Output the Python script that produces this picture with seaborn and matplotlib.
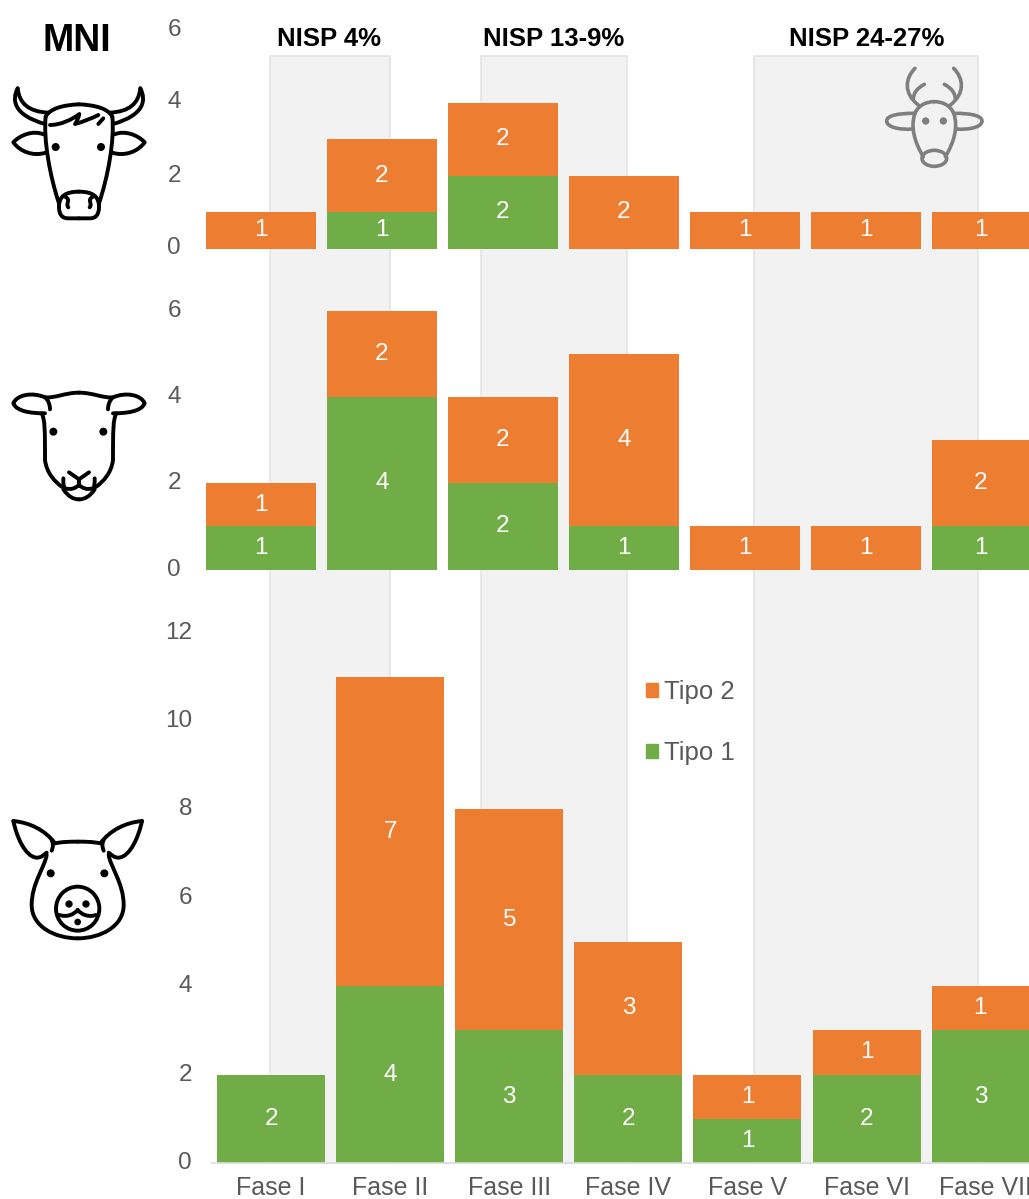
#! /usr/bin/env python3
import re

import pandas as pd
import seaborn as sns

import matplotlib.pyplot as plt
from matplotlib.patches import Ellipse, PathPatch, Patch, Rectangle
from matplotlib.path import Path
from matplotlib.transforms import ScaledTranslation

W, H = 1029, 1199

fases = ["Fase I", "Fase II", "Fase III", "Fase IV", "Fase V", "Fase VI", "Fase VII"]

bue_tipo1 = [0, 1, 2, 0, 0, 0, 0]
bue_tipo2 = [1, 2, 2, 2, 1, 1, 1]
ovi_tipo1 = [1, 4, 2, 1, 0, 0, 1]
ovi_tipo2 = [1, 2, 2, 4, 1, 1, 2]
sui_tipo1 = [2, 4, 3, 2, 1, 2, 3]
sui_tipo2 = [0, 7, 5, 3, 1, 1, 1]

bue_ticks = [0, 2, 4, 6]
ovi_ticks = [0, 2, 4, 6]
sui_ticks = [0, 2, 4, 6, 8, 10, 12]

nisp_labels = ["NISP 4%", "NISP 13-9%", "NISP 24-27%"]

ORANGE = "#ED7D31"
GREEN = "#70AD47"
TEXT = "#595959"


def parse(d):
    verts, codes = [], []
    n = {"M": (1, Path.MOVETO), "L": (1, Path.LINETO), "C": (3, Path.CURVE4)}
    for cmd, args in re.findall(r"([MLC])([^MLC]*)", d):
        nums = [float(v) for v in args.split()]
        pts = list(zip(nums[::2], nums[1::2]))
        size, code = n[cmd]
        for i, p in enumerate(pts):
            verts.append(p)
            codes.append(code if cmd != "M" else Path.MOVETO)
    return verts, codes


def draw_icon(ax, paths, dots, ox, oy, axis, color="black", ellipses=(), lw=2.8):
    # icon outlines are written in 3x zoom pixels and mirrored about axis
    for d, mirror in paths:
        verts, codes = parse(d)
        sides = [verts]
        if mirror:
            sides.append([(2 * axis - x, y) for x, y in verts])
        for side in sides:
            side = [(ox + x / 3, oy + y / 3) for x, y in side]
            ax.add_patch(PathPatch(Path(side, codes), fill=False, ec=color,
                                   lw=lw, capstyle="round", joinstyle="round"))
    for x, y, r in dots:
        ax.add_patch(Ellipse((ox + x / 3, oy + y / 3), r * 2 / 3, r * 2 / 3, fc=color, ec="none"))
    for x, y, rx, ry in ellipses:
        ax.add_patch(Ellipse((ox + x / 3, oy + y / 3), rx * 2 / 3, ry * 2 / 3, fill=False, ec=color, lw=lw))


def draw_icons(fig):
    ax = fig.add_axes([0, 0, 1, 1], zorder=5)
    ax.set_xlim(0, W)
    ax.set_ylim(H, 0)
    ax.axis("off")
    # cow
    draw_icon(ax, [
        ("M137 350 C150 325 190 315 237 313", True),
        ("M137 350 C130 420 150 530 177 610", True),
        ("M177 620 C177 590 195 575 237 575", True),
        ("M177 620 C177 645 187 655 205 655 L237 655", True),
        ("M53 265 C35 300 40 345 135 372", True),
        ("M53 265 C58 310 85 335 145 338", True),
        ("M130 403 C100 390 60 405 40 427 C60 455 100 470 137 458", True),
        ("M195 590 C215 600 195 610 205 622", True),
        ("M150 375 C180 375 215 360 238 342 C235 355 230 365 225 372 C250 365 275 355 295 345", False),
        ("M295 372 L310 355", False),
    ], [(167, 441, 12), (303, 441, 12)], 0, 0, 237)
    # sheep
    draw_icon(ax, [
        ("M135 100 C95 100 50 95 40 70 C50 45 95 35 135 52 C165 55 195 38 237 38", True),
        ("M135 52 C145 60 150 75 150 88", True),
        ("M125 100 C135 120 135 150 135 240 C140 280 165 305 185 320", True),
        ("M190 295 C190 310 190 320 195 325 C215 330 225 325 237 315", True),
        ("M190 328 C205 350 220 358 237 358", True),
        ("M207 277 L237 298", True),
        ("M237 298 L237 318", False),
    ], [(160, 155, 12), (310, 155, 12)], 0, 380, 237)
    # pig
    draw_icon(ax, [
        ("M40 33 C90 38 135 60 165 100 C190 95 210 95 233 95", True),
        ("M40 33 C50 80 75 140 110 143 C125 143 130 135 140 128", True),
        ("M155 90 C160 100 160 110 155 122", True),
        ("M140 135 C135 170 95 220 95 285 C95 350 165 385 233 385", True),
        ("M178 315 C200 322 220 315 233 300", True),
    ], [(152, 190, 12), (313, 190, 12), (207, 282, 11), (258, 282, 11), (233, 336, 10)],
        0, 810, 233, ellipses=[(233, 296, 65, 66)])
    # deer
    draw_icon(ax, [
        ("M165 190 C175 165 200 155 223 155", True),
        ("M165 190 C150 230 165 280 190 320", True),
        ("M160 190 C120 190 80 195 80 213 C80 232 120 240 158 237", True),
        ("M165 55 C135 85 130 130 175 165", True),
        ("M193 103 C170 115 160 130 160 148", True),
    ], [(197, 213, 11), (250, 213, 11)], 860, 50, 223, color="#7f7f7f",
        ellipses=[(223, 325, 37, 24)], lw=2.6)


def stacked(fig, tipo1, tipo2, ticks, left, spacing, zero_y, unit, show_x=False):
    top_y = zero_y - ticks[-1] * unit
    ax = fig.add_axes([left / W, 1 - zero_y / H, (W - left) / W, (zero_y - top_y) / H])
    df = pd.DataFrame({"fase": fases, "tipo1": tipo1, "tipo2": tipo2})
    sns.barplot(data=df, x="fase", y="tipo1", color=GREEN, saturation=1, width=0.907,
                linewidth=0, ax=ax)
    sns.barplot(data=df, x="fase", y="tipo2", color=ORANGE, saturation=1, width=0.907,
                linewidth=0, bottom=df["tipo1"].to_numpy(), ax=ax)
    ax.set_xlim(-0.5, (W - left) / spacing - 0.5)
    ax.set_ylim(0, ticks[-1])
    ax.set_yticks(ticks)
    ax.set_xlabel("")
    ax.set_ylabel("")
    ax.patch.set_alpha(0)
    sns.despine(ax=ax, left=True, right=True, top=True, bottom=not show_x)
    ax.spines["bottom"].set_color("#dcdcdc")
    ax.spines["bottom"].set_linewidth(1.2)
    ax.tick_params(axis="y", length=0, pad=14, labelsize=17.5, labelcolor=TEXT)
    # tick numbers sit a little above their gridline in the original
    shift = ScaledTranslation(0, 2.5 / 100, fig.dpi_scale_trans)
    for lab in ax.get_yticklabels():
        lab.set_transform(lab.get_transform() + shift)
    if show_x:
        ax.tick_params(axis="x", length=0, pad=9.5, labelsize=18, labelcolor=TEXT)
    else:
        ax.tick_params(axis="x", length=0, labelbottom=False)
    for cont, vals in zip(ax.containers, (tipo1, tipo2)):
        labels = [str(v) if v else "" for v in vals]
        ax.bar_label(cont, labels=labels, label_type="center", color="white", fontsize=17.5)
    return ax


def main():
    sns.set_theme(style="white")
    plt.rcParams["font.family"] = ["Liberation Sans", "DejaVu Sans"]
    fig = plt.figure(figsize=(W / 100, H / 100), dpi=100)

    # grey bands behind all three panels
    for x0, x1 in ((270, 390), (481, 627), (754, 978)):
        fig.add_artist(Rectangle((x0 / W, 1 - 1163 / H), (x1 - x0) / W, (1163 - 56) / H,
                                 transform=fig.transFigure, fc="#f2f2f2", ec="#e4e4e4",
                                 lw=1.2, zorder=-1))

    stacked(fig, bue_tipo1, bue_tipo2, bue_ticks, 200.5, 121.0, 248.5, 36.5)
    stacked(fig, ovi_tipo1, ovi_tipo2, ovi_ticks, 200.5, 121.0, 569.5, 43.1)
    ax3 = stacked(fig, sui_tipo1, sui_tipo2, sui_ticks, 211.5, 119.1, 1163, 44.2, show_x=True)

    handles = [Patch(color=ORANGE, label="Tipo 2"), Patch(color=GREEN, label="Tipo 1")]
    ax3.legend(handles=handles, loc="upper left", frameon=False, fontsize=18.5,
               bbox_to_anchor=(646 / W, 1 - 680 / H), bbox_transform=fig.transFigure,
               borderpad=0, borderaxespad=0, handlelength=0.46, handleheight=0.46,
               handletextpad=0.25, labelspacing=1.44, labelcolor=TEXT)

    for label, x in zip(nisp_labels, (329, 554, 867)):
        fig.text(x / W, 1 - 39 / H, label, ha="center", va="center", fontsize=18.5,
                 fontweight="bold", color="black")
    fig.text(77 / W, 1 - 41 / H, "MNI", ha="center", va="center", fontsize=27,
             fontweight="bold", color="black")

    draw_icons(fig)
    fig.savefig("out.png", dpi=100)


if __name__ == "__main__":
    main()
